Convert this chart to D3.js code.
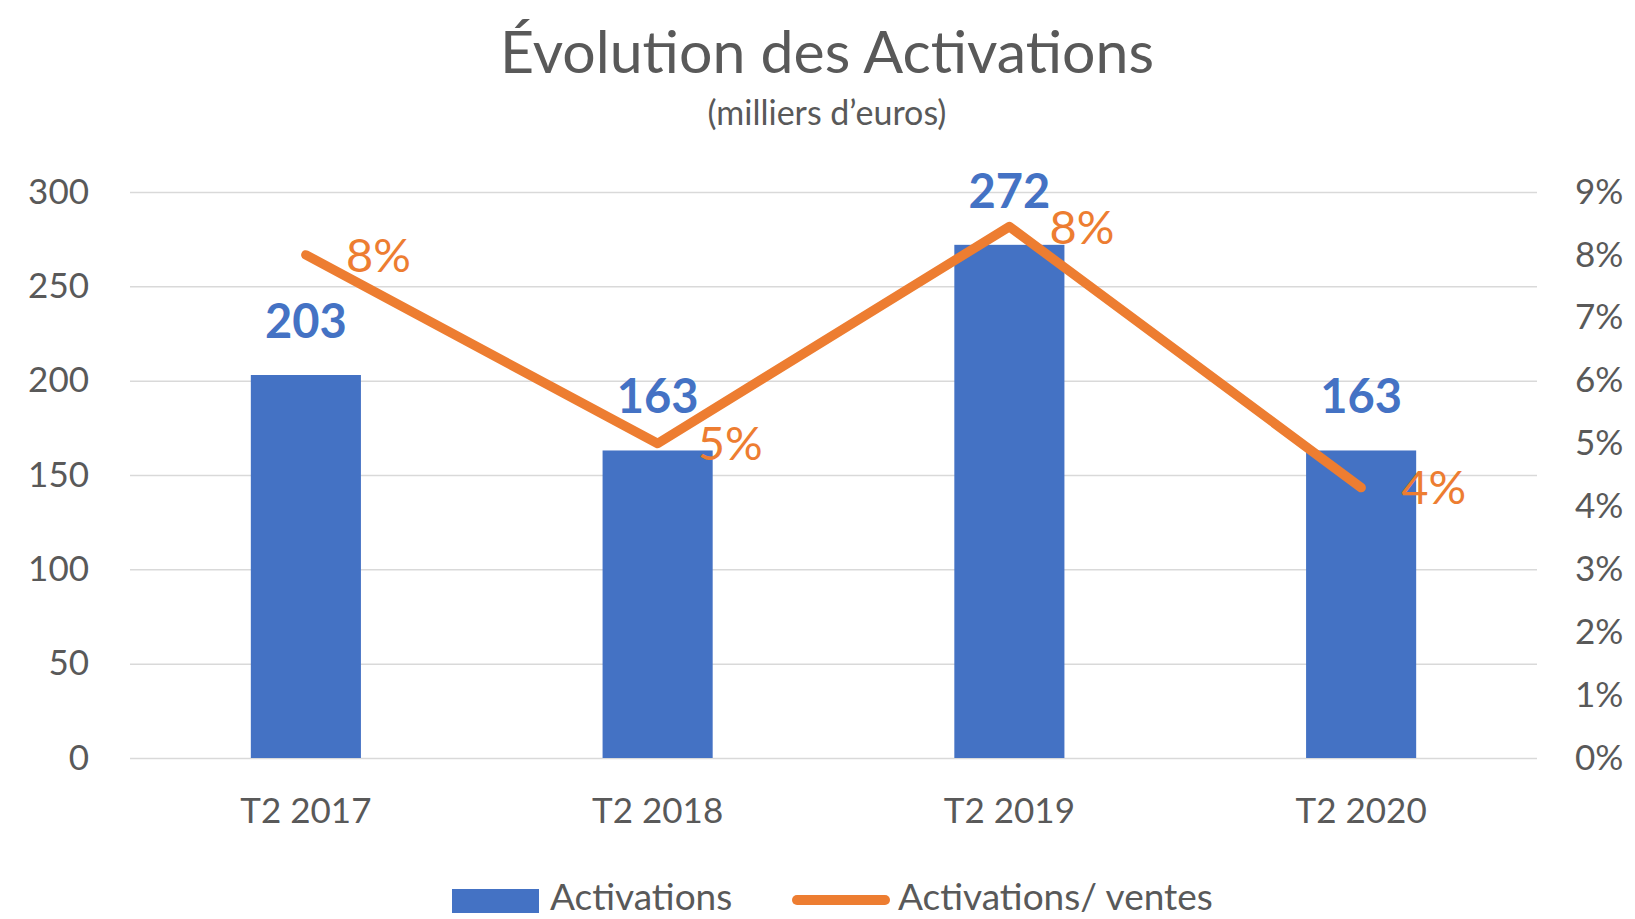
<!DOCTYPE html>
<html>
<head>
<meta charset="utf-8">
<script src="https://cdn.jsdelivr.net/npm/d3@7"></script>
<style>
  body { margin: 0; background: #fff; }
  text { font-family: Lato, "Open Sans", sans-serif; }
</style>
</head>
<body>
<div id="chart"></div>
<script>
// Chart data
const categories = ["T2 2017", "T2 2018", "T2 2019", "T2 2020"];
const activations = [203, 163, 272, 163];
const ratioVentes = [0.080, 0.050, 0.0845, 0.043];
const leftTicks = [0, 50, 100, 150, 200, 250, 300];
const rightTicks = [0, 0.01, 0.02, 0.03, 0.04, 0.05, 0.06, 0.07, 0.08, 0.09];
const legendLabels = ["Activations", "Activations/ ventes"];

const width = 1635, height = 919;
const margin = {top: 192, right: 98, bottom: 161, left: 130};
const plotW = width - margin.left - margin.right;
const plotH = height - margin.top - margin.bottom;

const blue = "#4472C4", orange = "#ED7D31", grey = "#595959", gridCol = "#D9D9D9";

let svg = d3.select("#chart").append("svg")
    .attr("width", width)
    .attr("height", height);

// Title + subtitle
svg.append("text")
    .attr("x", 827).attr("y", 73)
    .attr("text-anchor", "middle")
    .attr("font-size", 59)
    .attr("fill", grey)
    .text("Évolution des Activations");

svg.append("text")
    .attr("x", 827).attr("y", 125)
    .attr("text-anchor", "middle")
    .attr("font-size", 34)
    .attr("fill", grey)
    .text("(milliers d’euros)");

let g = svg.append("g")
    .attr("transform", "translate(" + margin.left + "," + margin.top + ")");

// Scales
let x = d3.scaleBand()
    .domain(categories)
    .range([0, plotW])
    .paddingInner(0.687)
    .paddingOuter(0.687 / 2);

let y = d3.scaleLinear().domain([0, 300]).range([plotH, 0]);
let y2 = d3.scaleLinear().domain([0, 0.09]).range([plotH, 0]);

// Left axis with gridlines
let leftAxis = g.append("g")
    .call(d3.axisLeft(y).tickValues(leftTicks).tickSize(-plotW).tickPadding(41));
leftAxis.select(".domain").remove();
leftAxis.selectAll(".tick line").attr("stroke", gridCol).attr("stroke-width", 1.5);
leftAxis.selectAll(".tick text")
    .attr("font-size", 35).attr("fill", grey).style("font-family", "Lato, sans-serif");

// Right axis
let rightAxis = g.append("g")
    .attr("transform", "translate(" + plotW + ",0)")
    .call(d3.axisRight(y2).tickValues(rightTicks).tickSize(0).tickPadding(38).tickFormat(d3.format(".0%")));
rightAxis.select(".domain").remove();
rightAxis.selectAll(".tick text")
    .attr("font-size", 35).attr("fill", grey).style("font-family", "Lato, sans-serif");

// Bottom axis
let bottomAxis = g.append("g")
    .attr("transform", "translate(0," + plotH + ")")
    .call(d3.axisBottom(x).tickSize(0).tickPadding(40));
bottomAxis.select(".domain").remove();
bottomAxis.selectAll(".tick text")
    .attr("font-size", 35).attr("fill", grey).style("font-family", "Lato, sans-serif");

// Bars
g.selectAll(".bar")
    .data(activations)
    .enter().append("rect")
    .attr("class", "bar")
    .attr("x", (d, i) => x(categories[i]))
    .attr("y", d => y(d))
    .attr("width", x.bandwidth())
    .attr("height", d => plotH - y(d))
    .attr("fill", blue);

// Bar labels
g.selectAll(".bar-label")
    .data(activations)
    .enter().append("text")
    .attr("class", "bar-label")
    .attr("x", (d, i) => x(categories[i]) + x.bandwidth() / 2)
    .attr("y", d => y(d) - 37)
    .attr("text-anchor", "middle")
    .attr("font-size", 47)
    .attr("font-weight", "bold")
    .attr("fill", blue)
    .text(d => d);

// Ratio line
let line = d3.line()
    .x((d, i) => x(categories[i]) + x.bandwidth() / 2)
    .y(d => y2(d));

g.append("path")
    .datum(ratioVentes)
    .attr("d", line)
    .attr("fill", "none")
    .attr("stroke", orange)
    .attr("stroke-width", 9.5)
    .attr("stroke-linejoin", "round")
    .attr("stroke-linecap", "round");

// Ratio labels, to the right of each point
g.selectAll(".ratio-label")
    .data(ratioVentes)
    .enter().append("text")
    .attr("class", "ratio-label")
    .attr("x", (d, i) => x(categories[i]) + x.bandwidth() / 2 + 40)
    .attr("y", d => y2(d))
    .attr("dy", "0.36em")
    .attr("font-size", 47)
    .attr("fill", orange)
    .text(d => d3.format(".0%")(d));

// Legend (kept just inside the bottom edge)
let legend = svg.append("g");
legend.append("rect")
    .attr("x", 452).attr("y", 889)
    .attr("width", 87).attr("height", 24)
    .attr("fill", blue);
legend.append("text")
    .attr("x", 550).attr("y", 910)
    .attr("font-size", 37).attr("fill", grey)
    .text(legendLabels[0]);
legend.append("line")
    .attr("x1", 797).attr("x2", 885)
    .attr("y1", 900).attr("y2", 900)
    .attr("stroke", orange).attr("stroke-width", 10)
    .attr("stroke-linecap", "round");
legend.append("text")
    .attr("x", 898).attr("y", 910)
    .attr("font-size", 37).attr("fill", grey)
    .text(legendLabels[1]);
</script>
</body>
</html>
